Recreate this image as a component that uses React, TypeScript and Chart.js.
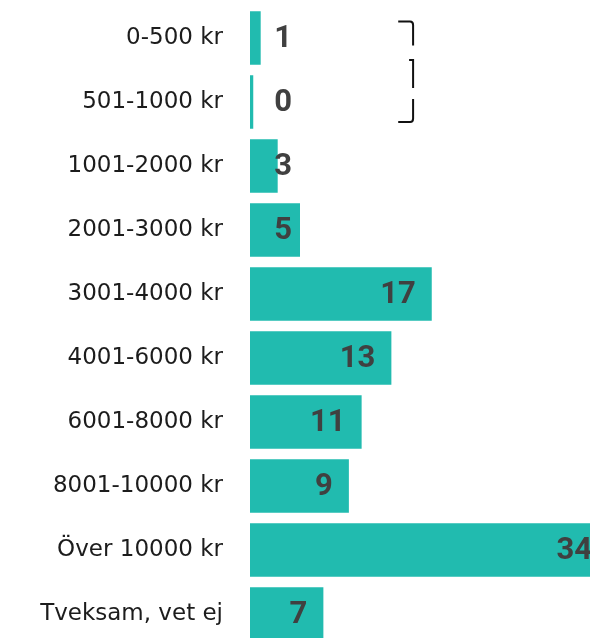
import React, { useEffect, useRef } from "react";
import { Chart, registerables } from "chart.js";

Chart.register(...registerables);

const categories = [
  "0-500 kr",
  "501-1000 kr",
  "1001-2000 kr",
  "2001-3000 kr",
  "3001-4000 kr",
  "4001-6000 kr",
  "6001-8000 kr",
  "8001-10000 kr",
  "Över 10000 kr",
  "Tveksam, vet ej",
];

// bar lengths (percent)
const shares = [1.1, 0.4, 2.7, 4.8, 17.2, 13.4, 10.6, 9.4, 33.8, 7.0];
// labels printed on the bars
const valueLabels = ["1", "0", "3", "5", "17", "13", "11", "9", "34", "7"];

const xMax = 32;
const barColor = "#21BBAF";
const labelColor = "#404040";
const catColor = "#1c1c1c";

const valueLabelPlugin = {
  id: "valueLabels",
  afterDatasetsDraw(chart: any) {
    const { ctx, chartArea } = chart;
    const meta = chart.getDatasetMeta(0);
    ctx.save();
    ctx.font = "bold 31px Roboto";
    ctx.fillStyle = labelColor;
    ctx.textAlign = "right";
    ctx.textBaseline = "middle";
    meta.data.forEach((bar: any, i: number) => {
      const right = Math.max(bar.x - 17, chartArea.left + 42);
      ctx.fillText(valueLabels[i], right, bar.y + 1);
    });
    ctx.restore();
  },
};

const bracketPlugin = {
  id: "bracket",
  afterDraw(chart: any) {
    const { ctx } = chart;
    const xs = chart.scales.x;
    const ys = chart.scales.y;
    const y0 = ys.getPixelForValue(0);
    const y1 = ys.getPixelForValue(1);
    const xl = xs.getPixelForValue(13.95);
    const xr = xs.getPixelForValue(15.35);
    ctx.save();
    ctx.strokeStyle = "#111";
    ctx.lineWidth = 2;
    ctx.lineCap = "butt";
    // top piece
    ctx.beginPath();
    ctx.moveTo(xl, y0 - 16.5);
    ctx.lineTo(xr - 3, y0 - 16.5);
    ctx.quadraticCurveTo(xr, y0 - 16.5, xr, y0 - 13);
    ctx.lineTo(xr, y0 + 7.5);
    ctx.stroke();
    // middle piece
    ctx.beginPath();
    ctx.moveTo(xr - 4, y0 + 22);
    ctx.lineTo(xr, y0 + 22);
    ctx.lineTo(xr, y0 + 50);
    ctx.stroke();
    // bottom piece
    ctx.beginPath();
    ctx.moveTo(xr, y1 - 3);
    ctx.lineTo(xr, y1 + 16.5);
    ctx.quadraticCurveTo(xr, y1 + 20, xr - 3, y1 + 20);
    ctx.lineTo(xl, y1 + 20);
    ctx.stroke();
    ctx.restore();
  },
};

export default function App() {
  const ref = useRef<HTMLCanvasElement | null>(null);

  useEffect(() => {
    if (!ref.current) return;
    const chart = new Chart(ref.current, {
      type: "bar",
      data: {
        labels: categories,
        datasets: [
          {
            data: shares,
            backgroundColor: barColor,
            borderColor: "rgba(255,255,255,0.35)",
            borderWidth: 1,
            barPercentage: 0.865,
            categoryPercentage: 1,
          },
        ],
      },
      options: {
        indexAxis: "y",
        animation: false,
        responsive: false,
        devicePixelRatio: 1,
        layout: { padding: { top: 6, bottom: 0, left: 0, right: 0 } },
        plugins: {
          legend: { display: false },
          tooltip: { enabled: false },
        },
        scales: {
          x: {
            display: false,
            min: 0,
            max: xMax,
          },
          y: {
            grid: { display: false, drawTicks: false },
            border: { display: false },
            ticks: {
              color: catColor,
              padding: 27,
              font: { family: "'DejaVu Sans'", size: 23 },
            },
            afterFit(scale: any) {
              scale.width = 250;
              scale.paddingTop = 0;
              scale.paddingBottom = 0;
            },
          },
        },
      },
      plugins: [valueLabelPlugin, bracketPlugin],
    });
    return () => chart.destroy();
  }, []);

  return (
    <div
      style={{
        position: "fixed",
        left: 0,
        top: 0,
        width: 590,
        height: 638,
        overflow: "hidden",
        background: "#fff",
      }}
    >
      <canvas
        ref={ref}
        width={590}
        height={646}
        style={{ display: "block", width: 590, height: 646 }}
      />
    </div>
  );
}
